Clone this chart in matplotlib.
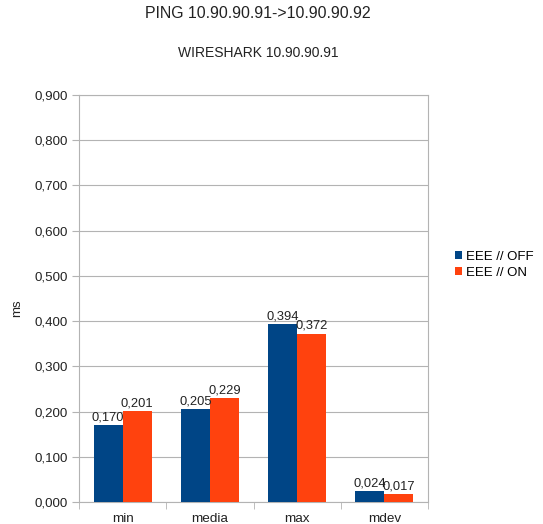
import numpy as np
import matplotlib.pyplot as plt
from matplotlib.ticker import FuncFormatter, MultipleLocator, FixedLocator

categories = ["min", "media", "max", "mdev"]
eee_off = [0.170, 0.205, 0.394, 0.024]
eee_on = [0.201, 0.229, 0.372, 0.017]
series_names = ["EEE // OFF", "EEE // ON"]

plt.rcParams['font.family'] = ['Liberation Sans', 'DejaVu Sans']

fig = plt.figure(figsize=(5.43, 5.24), dpi=100)
ax = fig.add_axes([79 / 543, 1 - 502 / 524, 349 / 543, 407 / 524])

x = np.arange(len(categories))
w = 0.333
b1 = ax.bar(x - w / 2, eee_off, w, color="#004586", label=series_names[0], zorder=3)
b2 = ax.bar(x + w / 2, eee_on, w, color="#ff420e", label=series_names[1], zorder=3)

fmt = lambda v: f"{v:.3f}".replace(".", ",")
for bars in (b1, b2):
    for r in bars:
        ax.text(r.get_x() + r.get_width() / 2, r.get_height() + 0.004, fmt(r.get_height()),
                ha="center", va="bottom", fontsize=9.3, color="#222222", zorder=4)

ax.set_xlim(-0.5, len(categories) - 0.5)
ax.set_ylim(0, 0.9)
ax.yaxis.set_major_locator(MultipleLocator(0.1))
ax.yaxis.set_major_formatter(FuncFormatter(lambda v, p: fmt(v)))
ax.grid(axis="y", color="#b3b3b3", lw=0.8, zorder=0)

ax.set_xticks(x)
ax.set_xticklabels(categories, fontsize=9.7, color="#222222")
ax.tick_params(axis="x", length=0, pad=8)
ax.xaxis.set_minor_locator(FixedLocator(np.arange(-0.5, len(categories), 1.0)))
ax.tick_params(axis="x", which="minor", length=5, color="#b3b3b3")
ax.tick_params(axis="y", length=5, color="#b3b3b3", labelsize=9.6, labelcolor="#222222", pad=3)

for s in ax.spines.values():
    s.set_color("#b3b3b3")
    s.set_linewidth(0.8)

fig.text(17 / 543, 1 - 308 / 524, "ms", rotation=90, ha="center", va="center",
         fontsize=9.5, color="#222222")

fig.text(258 / 543, 1 - 14 / 524, "PING 10.90.90.91->10.90.90.92", ha="center", va="center",
         fontsize=11.4, color="#222222")
fig.text(258 / 543, 1 - 53 / 524, "WIRESHARK 10.90.90.91", ha="center", va="center",
         fontsize=10, color="#222222")

fig.legend(handles=[b1, b2], loc="center left", bbox_to_anchor=(455 / 543, 1 - 265 / 524),
           frameon=False, fontsize=9.5, handlelength=0.55, handleheight=0.55,
           handletextpad=0.3, labelspacing=0.3, borderpad=0, borderaxespad=0)

fig.savefig("out.png", dpi=100)
